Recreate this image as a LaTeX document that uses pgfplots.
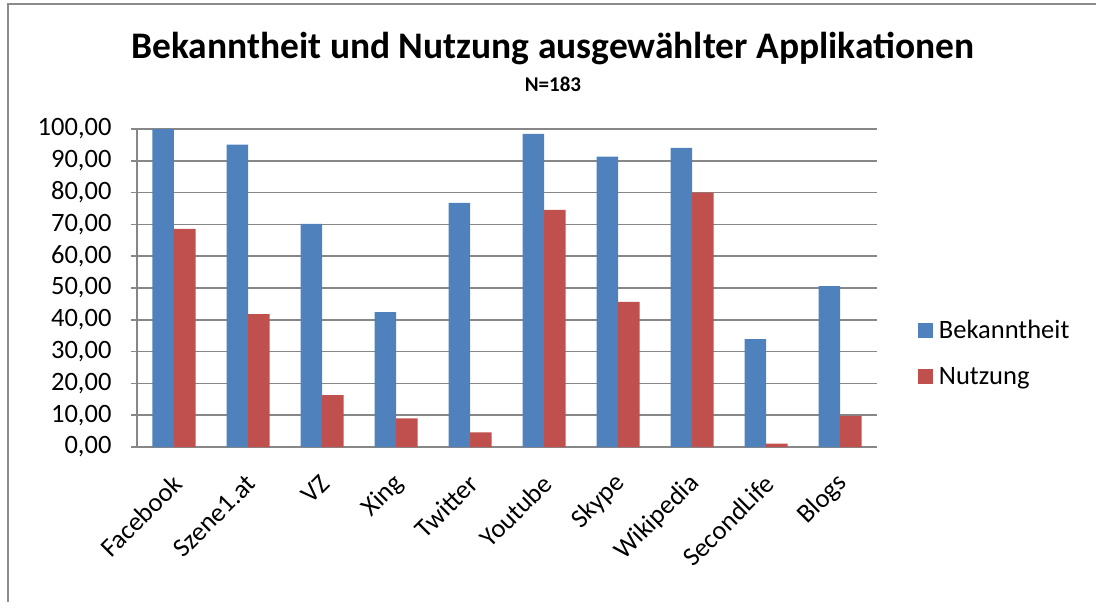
\documentclass[border=0pt]{standalone}
\usepackage{fontspec}
\setmainfont{Carlito}
\usepackage{pgfplots}
\pgfplotsset{compat=1.18}
\definecolor{bblue}{HTML}{4F81BD}
\definecolor{bred}{HTML}{C0504D}
\definecolor{gridgray}{HTML}{878787}
\definecolor{framegray}{HTML}{8C8C8C}
\begin{document}
\begin{tikzpicture}[x=1pt,y=1pt]
\path[use as bounding box] (0pt,0pt) rectangle (1096pt,-602pt);
\draw[framegray, line width=2pt] (8pt,-620pt) -- (8pt,-4pt) -- (1120pt,-4pt);
\node[font=\fontsize{37.5}{44}\selectfont\bfseries] at (553pt,-48pt) {Bekanntheit und Nutzung ausgewählter Applikationen};
\node[font=\fontsize{21}{25}\selectfont\bfseries] at (553pt,-84pt) {N=183};
\begin{axis}[
  at={(137pt,-447pt)}, anchor=south west,
  scale only axis, width=740pt, height=318pt,
  ybar=0pt, bar width=21.5pt,
  ymin=0, ymax=100, ytick={0,10,...,100},
  xmin=-0.5, xmax=9.5, xtick={0,...,9},
  xticklabels={Facebook,Szene1.at,VZ,Xing,Twitter,Youtube,Skype,Wikipedia,SecondLife,Blogs},
  ymajorgrids, grid style={gridgray, line width=1.6pt},
  axis x line*=bottom, axis y line*=left,
  axis line style={gridgray, line width=1.6pt},
  x tick style={draw=none},
  y tick style={gridgray, line width=1.6pt},
  tick align=outside, major tick length=6pt,
  yticklabel style={font=\fontsize{26.5}{31}\selectfont, xshift=-16pt},
  /pgf/number format/.cd, fixed, fixed zerofill, precision=2, use comma, assume math mode=true,
  /pgfplots/.cd,
  xticklabel shift=24pt,
  xticklabel style={font=\fontsize{26.5}{31}\selectfont, rotate=45, anchor=east, xshift=4pt, yshift=-4pt},
  legend style={at={(1.051,0.296)}, anchor=west, draw=none, fill=none,
     font=\fontsize{26.5}{31}\selectfont, row sep=23pt,
     /tikz/every odd column/.append style={column sep=4pt}},
  legend cell align=left,
]
\addplot[fill=bblue, draw=none,
  legend image code/.code={\fill[bblue] (0pt,-7.5pt) rectangle (15pt,7.5pt);}]
  coordinates {(0,100) (1,95.1) (2,70.2) (3,42.4) (4,76.8) (5,98.5) (6,91.3) (7,94.1) (8,33.9) (9,50.6)};
\addplot[fill=bred, draw=none,
  legend image code/.code={\fill[bred] (0pt,-7.5pt) rectangle (15pt,7.5pt);}]
  coordinates {(0,68.6) (1,41.8) (2,16.3) (3,9.0) (4,4.6) (5,74.6) (6,45.6) (7,80.0) (8,1.1) (9,9.8)};
\legend{Bekanntheit,Nutzung}
\end{axis}
\end{tikzpicture}
\end{document}
